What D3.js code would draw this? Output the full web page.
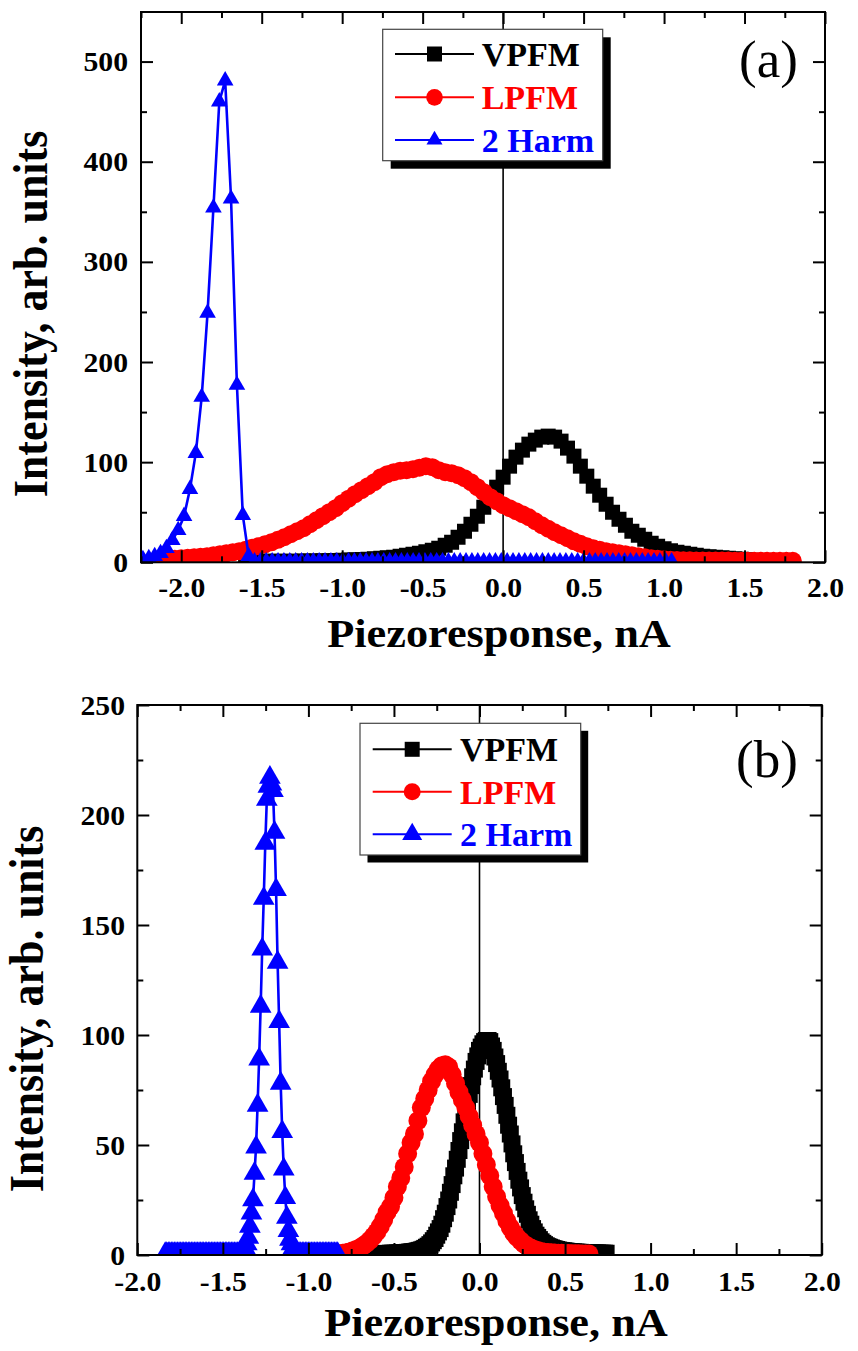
<!DOCTYPE html>
<html><head><meta charset="utf-8">
<script src="https://cdn.jsdelivr.net/npm/d3@7"></script>
<style>
body{margin:0;background:#fff}
svg{display:block}
text{font-family:"Liberation Serif","Times New Roman",Times,serif}
</style>
</head><body>
<svg id="c" width="858" height="1351"></svg>
<script>
// ---------------- DATA ----------------
// Panel (a)
const xTicksA = [-2.0,-1.5,-1.0,-0.5,0.0,0.5,1.0,1.5,2.0];
const yTicksA = [0,100,200,300,400,500];
const vpfmA_x0 = -1.60, vpfmA_dx = 0.04;
const vpfmA_y = [1,1,1,1,1,1,1,1,1,
  1.2,1.2,1.4,1.5,1.6,1.8,2,
  2.2,2.5,2.8,3,3.5,4,4.5,5,6,7,8,9,10.5,12,14,17,20,25,31,38,46,55,65,75,
  85,96,105,112,118,122,125,126,125,121,114,106,96,86,76,67,58,50,43,37,
  31,27,23,19,16,13.5,11.5,10,9,8,7,6,5.5,5,4.5,4,3.5,3,2.5,2,1.5];
const lpfmA_x0 = -2.12, lpfmA_dx = 0.04;
const lpfmA_y = [2,3,3.5,4,4.5,5,5.5,6,7,8,9,10,11,12.5,14.5,16,18,20,22.5,25,28,31,34,38,42,46,50,54,59,
  63.5,68,72,76,80,85,88,90,91.5,92,93,94.5,96,95,92,90,89,87,84,80,75,70,65,61,
  57,54,51,48,45,41,37,33.5,30,27,24,21,18.5,16,14,12.5,11,10,9,8,7,6,5,4,3.5,3,2.5,2.2,2,
  2,1.9,1.9,1.8,1.8,1.7,1.7,1.6,1.6,1.6,1.5,1.5,1.5,1.5,1.5,1.5,1.5];
const harmA_x0 = -2.238, harmA_dx = 0.0365;
const harmA_y = [3,4,6,9,14,22,32,46,73,109,165,249,354,460,481,363,177,47,6,
  0.8,0.8,0.8,0.8,0.8,0.8,0.8,0.8,0.8,0.8,
  0.8,0.8,0.8,0.8,0.8,0.8,0.8,0.8,0.8,0.8,
  0.8,0.8,0.8,0.8,0.8,0.8,0.8,0.8,0.8,0.8,
  0.8,0.8,0.8,0.8,0.8,0.8,0.8,0.8,0.8,0.8,
  0.8,0.8,0.8,0.8,0.8,0.8,0.8,0.8,0.8,0.8,
  0.8,0.8,0.8,0.8,0.8,0.8,0.8,0.8,0.8,0.8,
  0.8,0.8,0.8,0.8,0.8,0.8,0.8,0.8,0.8,0.8,
  0.8,0.8];

// Panel (b)
const xTicksB = [-2.0,-1.5,-1.0,-0.5,0.0,0.5,1.0,1.5,2.0];
const yTicksB = [0,50,100,150,200,250];
const vpfmB_x0 = -0.66, vpfmB_dx = 0.01;
const vpfmB_y = [0.5,0.5,0.5,0.5,0.5,0.5,0.6,0.6,0.6,0.6,0.7,0.7,0.7,0.7,0.8,0.8,0.8,0.8,0.9,0.9,
  1,1,1.1,1.1,1.2,1.3,1.4,
  1.5,1.6,1.7,1.9,2.1,2.3,2.6,3,3.5,4,4.7,5.5,6.5,7.5,9,10.5,12,14,16.5,19,
  22,25,28.5,32,36,39.5,43.5,47.5,52,56,60.5,65,69,73,77,81,84.5,88,90.5,
  93,94.5,96,97,97.5,97.5,97,95,93,90,87,83.5,80,76,72,68,63.5,59,55,50.5,
  46,42,38,34,30.5,27,24,21,18.5,16,14,12,10.5,9,8,7,6,5.3,4.7,4.2,
  3.8,3.5,3.2,2.9,2.7,2.5,2.3,2.1,2,1.9,1.8,1.7,1.6,1.5,1.4,1.4,1.3,1.3,1.2,1.2,
  1.1,1.1,1,1,1,1,0.9,0.9,0.9,0.9,0.8,0.8,0.8,0.8,0.8];
const lpfmB_x0 = -0.84, lpfmB_dx = 0.02;
const lpfmB_y = [0.4,0.6,0.8,1,1.4,1.9,2.5,3.2,4.2,5.3,6.7,8.5,10.5,13,16,19.5,22,26,31,35,
  40,46,51,55,61,67,71,75,79,82,84.5,86,86.5,85.5,82,78,74,70.5,67,63,59,55,
  51,46,41,36,31,26.5,22.5,19,15.5,12.5,10,8,6.5,5,4,3.2,2.5,2,1.6,1.3,
  1.1,1,0.9,0.8,0.8,0.7,0.7,0.6,0.6,0.6,0.5,0.5,0.5];
const harmB_x0 = -1.837, harmB_dx = 0.009;
const harmB_y = [0.5,0.5,0.5,0.5,0.5,0.5,0.5,0.5,0.5,0.5,
  0.5,0.5,0.5,0.5,0.5,0.5,0.5,0.5,0.5,0.5,
  0.5,0.5,0.5,0.5,0.5,0.5,0.5,0.5,0.5,0.5,
  0.5,0.5,0.5,0.5,0.5,0.5,0.5,0.5,0.5,0.5,
  0.5,0.5,0.5,0.5,0.5,0.5,0.5,0.5,0.5,0.5,
  1,2,3,5,
  8,13,19,25,37,49,68,89,113,139,162,187,207,213,217,214,211,192,166,133,106,78,56,39,26,17,11,7,
  5,3,2,1,
  0.5,0.5,0.5,0.5,0.5,0.5,0.5,0.5,0.5,0.5,
  0.5,0.5,0.5,0.5,0.5,0.5,0.5,0.5,0.5,0.5,
  0.5,0.5,0.5,0.5,0.5,0.5,0.5];

const seriesNames = ["VPFM","LPFM","2 Harm"];
const seriesColors = ["#000000","#ff0000","#0000ff"];
const xTitle = "Piezoresponse, nA";
const yTitle = "Intensity, arb. units";

// ---------------- DRAW ----------------
const svg = d3.select('#c');
function pts(x0, dx, ys){ return ys.map((v,i)=>[x0 + i*dx, v]); }

function panel(cfg){
  const g = svg.append('g');
  const x = d3.scaleLinear().domain(cfg.xDomain).range([cfg.L, cfg.R]);
  const y = d3.scaleLinear().domain(cfg.yDomain).range([cfg.B, cfg.T]);
  const clipId = 'clip' + cfg.id;
  svg.append('clipPath').attr('id', clipId).append('rect')
    .attr('x', cfg.L).attr('y', cfg.T).attr('width', cfg.R - cfg.L).attr('height', cfg.B - cfg.T);

  // zero line
  g.append('line').attr('x1', x(0)).attr('x2', x(0)).attr('y1', cfg.T).attr('y2', cfg.B)
    .attr('stroke', '#000').attr('stroke-width', 1.6);

  const dg = g.append('g').attr('clip-path', `url(#${clipId})`);
  cfg.series.forEach((s, si) => {
    const data = pts(s.x0, s.dx, s.ys);
    dg.append('path').datum(data)
      .attr('fill', 'none').attr('stroke', seriesColors[si]).attr('stroke-width', s.lw)
      .attr('d', d3.line().x(d => x(d[0])).y(d => y(d[1])));
    const sym = d3.symbol().type(s.type).size(s.size);
    dg.append('g').selectAll('path').data(data).join('path')
      .attr('transform', d => `translate(${x(d[0])},${y(d[1])})`)
      .attr('d', sym).attr('fill', seriesColors[si]);
  });

  // ticks via d3 axes
  const fmtX = d => d.toFixed(1);
  const minorX = d3.range(cfg.xDomain[0], cfg.xDomain[1] + 1e-9, 0.25)
    .filter(v => Math.abs(v*2 - Math.round(v*2)) > 1e-6);
  const minorY = cfg.yMinor;
  function styleAxis(ag){
    ag.select('.domain').remove();
    ag.selectAll('line').attr('stroke', '#000').attr('stroke-width', 2);
    ag.attr('font-family', null).attr('font-size', null);
  }
  const bx = g.append('g').attr('transform', `translate(0,${cfg.B})`)
    .call(d3.axisBottom(x).tickValues(cfg.xTicks).tickSize(-12).tickFormat(fmtX));
  styleAxis(bx);
  bx.selectAll('text').attr('y', null).attr('dy', null)
    .attr('transform', `translate(0,${cfg.xLabY - cfg.B}) scale(1.1,1)`)
    .attr('font-size', 27).attr('font-weight', 'bold').attr('fill', '#000');
  styleAxis(g.append('g').attr('transform', `translate(0,${cfg.B})`)
    .call(d3.axisBottom(x).tickValues(minorX).tickSize(-6).tickFormat('')));
  styleAxis(g.append('g').attr('transform', `translate(0,${cfg.T})`)
    .call(d3.axisTop(x).tickValues(cfg.xTicks).tickSize(-12).tickFormat('')));
  styleAxis(g.append('g').attr('transform', `translate(0,${cfg.T})`)
    .call(d3.axisTop(x).tickValues(minorX).tickSize(-6).tickFormat('')));

  const ly = g.append('g').attr('transform', `translate(${cfg.L},0)`)
    .call(d3.axisLeft(y).tickValues(cfg.yTicks).tickSize(-12).tickFormat(d3.format('d')));
  styleAxis(ly);
  ly.selectAll('text').attr('x', null).attr('dy', null)
    .attr('transform', `translate(${cfg.yLabR - cfg.L},9) scale(1.1,1)`)
    .attr('font-size', 27).attr('font-weight', 'bold').attr('fill', '#000');
  styleAxis(g.append('g').attr('transform', `translate(${cfg.L},0)`)
    .call(d3.axisLeft(y).tickValues(minorY).tickSize(-6).tickFormat('')));
  styleAxis(g.append('g').attr('transform', `translate(${cfg.R},0)`)
    .call(d3.axisRight(y).tickValues(cfg.yTicks).tickSize(-12).tickFormat('')));
  styleAxis(g.append('g').attr('transform', `translate(${cfg.R},0)`)
    .call(d3.axisRight(y).tickValues(minorY).tickSize(-6).tickFormat('')));

  // frame
  g.append('rect').attr('x', cfg.L).attr('y', cfg.T).attr('width', cfg.R - cfg.L).attr('height', cfg.B - cfg.T)
    .attr('fill', 'none').attr('stroke', '#000').attr('stroke-width', 2);

  // titles
  g.append('text').text(xTitle)
    .attr('transform', `translate(${cfg.xTitleX},${cfg.xTitleY}) scale(1.08,1)`)
    .attr('text-anchor', 'middle').attr('font-size', 41).attr('font-weight', 'bold');
  g.append('text').text(yTitle)
    .attr('transform', `translate(${cfg.yTitleX},${cfg.yTitleY}) scale(1.08,1) rotate(-90)`)
    .attr('text-anchor', 'middle').attr('font-size', 44).attr('font-weight', 'bold');

  // panel label
  g.append('text').text(cfg.label).attr('x', cfg.labelX).attr('y', cfg.labelY)
    .attr('font-size', 53);

  // legend
  const lg = cfg.legend;
  g.append('rect').attr('x', lg.x + lg.sh).attr('y', lg.y + lg.sh).attr('width', lg.w).attr('height', lg.h).attr('fill', '#000');
  g.append('rect').attr('x', lg.x).attr('y', lg.y).attr('width', lg.w).attr('height', lg.h)
    .attr('fill', '#fff').attr('stroke', '#444').attr('stroke-width', 1.2);
  seriesNames.forEach((name, i) => {
    const ry = lg.rows[i];
    g.append('line').attr('x1', lg.x1).attr('x2', lg.x2).attr('y1', ry).attr('y2', ry)
      .attr('stroke', seriesColors[i]).attr('stroke-width', 2);
    g.append('path').attr('transform', `translate(${(lg.x1 + lg.x2)/2},${ry})`)
      .attr('d', d3.symbol().type(lg.types[i]).size(lg.sizes[i])).attr('fill', seriesColors[i]);
    g.append('text').text(name).attr('x', lg.tx).attr('y', ry + 12)
      .attr('font-size', 34).attr('font-weight', 'bold').attr('fill', seriesColors[i]);
  });
}

panel({
  id: 'a', L: 141, R: 825, T: 12, B: 562.3,
  xDomain: [-2.25, 2.0], yDomain: [0, 549.5],
  xTicks: xTicksA, yTicks: yTicksA, yMinor: [50,150,250,350,450],
  xLabY: 597, yLabR: 128,
  xTitleX: 499, xTitleY: 647, yTitleX: 47, yTitleY: 314,
  label: '(a)', labelX: 739, labelY: 77,
  series: [
    {x0: vpfmA_x0, dx: vpfmA_dx, ys: vpfmA_y, type: d3.symbolSquare, size: 225, lw: 1.5},
    {x0: lpfmA_x0, dx: lpfmA_dx, ys: lpfmA_y, type: d3.symbolCircle, size: 254, lw: 1.5},
    {x0: harmA_x0, dx: harmA_dx, ys: harmA_y, type: d3.symbolTriangle, size: 120, lw: 2.6}
  ],
  legend: {x: 382.7, y: 29.3, w: 220, h: 131.4, sh: 8, rows: [54, 97.3, 140],
    x1: 395, x2: 474, tx: 481.7,
    types: [d3.symbolSquare, d3.symbolCircle, d3.symbolTriangle], sizes: [225, 219, 111]}
});

panel({
  id: 'b', L: 137.3, R: 821.7, T: 705, B: 1255,
  xDomain: [-2.0, 2.0], yDomain: [0, 250],
  xTicks: xTicksB, yTicks: yTicksB, yMinor: [25,75,125,175,225],
  xLabY: 1291, yLabR: 125,
  xTitleX: 496, xTitleY: 1336, yTitleX: 43, yTitleY: 1009,
  label: '(b)', labelX: 736, labelY: 777,
  series: [
    {x0: vpfmB_x0, dx: vpfmB_dx, ys: vpfmB_y, type: d3.symbolSquare, size: 289, lw: 1.5},
    {x0: lpfmB_x0, dx: lpfmB_dx, ys: lpfmB_y, type: d3.symbolCircle, size: 283, lw: 1.5},
    {x0: harmB_x0, dx: harmB_dx, ys: harmB_y, type: d3.symbolTriangle, size: 204, lw: 2.6}
  ],
  legend: {x: 360, y: 723.3, w: 220.7, h: 131.7, sh: 7.5, rows: [749.3, 791.7, 834.3],
    x1: 372.7, x2: 451.7, tx: 460,
    types: [d3.symbolSquare, d3.symbolCircle, d3.symbolTriangle], sizes: [225, 227, 173]}
});
</script>
</body></html>
